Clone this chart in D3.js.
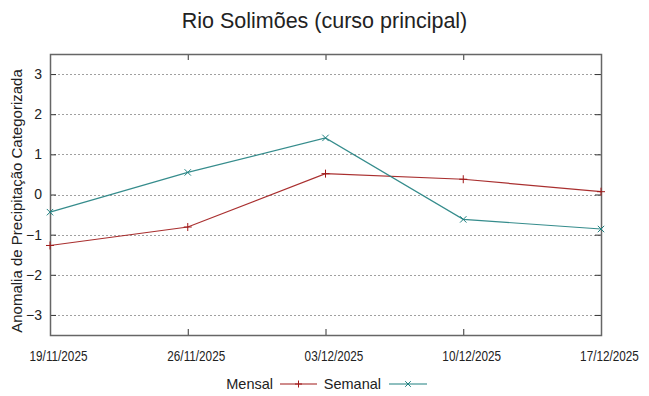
<!DOCTYPE html>
<html>
<head>
<meta charset="utf-8">
<script src="https://cdn.jsdelivr.net/npm/d3@7"></script>
<style>
  body { margin: 0; background: #fff; }
  text { font-family: "Liberation Sans", Arial, sans-serif; fill: #222; }
</style>
</head>
<body>
<div id="chart"></div>
<script>
const width = 649, height = 396
const margin = { top: 54, right: 48, bottom: 61, left: 50 }

const dates = ['19/11/2025', '26/11/2025', '03/12/2025', '10/12/2025', '17/12/2025']
const mensal = [-1.27, -0.81, 0.52, 0.38, 0.07]
const semanal = [-0.44, 0.55, 1.41, -0.62, -0.86]
const yTicks = [-3, -2, -1, 0, 1, 2, 3]

const parse = d3.timeParse('%d/%m/%Y')
const fmt = d3.timeFormat('%d/%m/%Y')

const svg = d3.select('#chart')
    .append('svg')
    .attr('width', width)
    .attr('height', height)

const x = d3.scaleTime()
    .domain(d3.extent(dates, parse))
    .range([margin.left, width - margin.right])

const y = d3.scaleLinear()
    .domain([-3.5, 3.5])
    .range([height - margin.bottom, margin.top])

// grid
svg.append('g')
    .selectAll('line')
    .data(yTicks)
    .join('line')
    .attr('x1', margin.left)
    .attr('x2', width - margin.right)
    .attr('y1', d => Math.round(y(d)) + 0.5)
    .attr('y2', d => Math.round(y(d)) + 0.5)
    .attr('stroke', '#a0a0a0')
    .attr('stroke-width', 1)
    .attr('stroke-dasharray', '2,2')

// y axis labels and ticks
svg.append('g')
    .attr('transform', `translate(${margin.left},0)`)
    .call(d3.axisLeft(y).tickValues(yTicks).tickSize(-6).tickPadding(8).tickFormat(d3.format('d')))
    .call(g => g.select('.domain').remove())
    .call(g => g.selectAll('.tick line').attr('stroke', '#333'))
    .call(g => g.selectAll('text').attr('font-size', 14).attr('fill', '#222')
        .attr('font-family', '"Liberation Sans", Arial, sans-serif'))

svg.append('g')
    .attr('transform', `translate(${width - margin.right},0)`)
    .call(d3.axisRight(y).tickValues(yTicks).tickSize(-6).tickFormat(''))
    .call(g => g.select('.domain').remove())
    .call(g => g.selectAll('.tick line').attr('stroke', '#333'))

// x axis (labels sit a little right of their ticks, as in the original)
const xVals = dates.map(parse)
svg.append('g')
    .attr('transform', `translate(0,${height - margin.bottom})`)
    .call(d3.axisBottom(x).tickValues(xVals).tickFormat(fmt).tickSize(-6).tickPadding(16))
    .call(g => g.select('.domain').remove())
    .call(g => g.selectAll('.tick line').attr('stroke', '#333'))
    .call(g => g.selectAll('text').attr('font-size', 14).attr('fill', '#222')
        .attr('font-family', '"Liberation Sans", Arial, sans-serif')
        .attr('transform', 'translate(8,0) scale(0.84,1)'))

svg.append('g')
    .attr('transform', `translate(0,${margin.top})`)
    .call(d3.axisTop(x).tickValues(xVals).tickSize(-6).tickFormat(''))
    .call(g => g.select('.domain').remove())
    .call(g => g.selectAll('.tick line').attr('stroke', '#333'))

// border
svg.append('rect')
    .attr('x', margin.left + 0.5)
    .attr('y', margin.top + 0.5)
    .attr('width', width - margin.left - margin.right)
    .attr('height', height - margin.top - margin.bottom)
    .attr('fill', 'none')
    .attr('stroke', '#666')
    .attr('stroke-width', 1.5)

const series = [
    { name: 'Mensal', values: mensal, color: '#a01818', marker: 'plus' },
    { name: 'Semanal', values: semanal, color: '#1f8080', marker: 'cross' },
]

const line = d3.line()
    .x((d, i) => x(xVals[i]))
    .y(d => y(d))

const markerPath = (type, cx, cy, s) => type === 'plus'
    ? `M${cx - s},${cy}H${cx + s}M${cx},${cy - s}V${cy + s}`
    : `M${cx - s},${cy - s}L${cx + s},${cy + s}M${cx - s},${cy + s}L${cx + s},${cy - s}`

series.forEach(s => {
    svg.append('path')
        .datum(s.values)
        .attr('d', line)
        .attr('fill', 'none')
        .attr('stroke', s.color)
        .attr('stroke-width', 1.2)
        .attr('opacity', 0.9)

    svg.append('g')
        .selectAll('path')
        .data(s.values)
        .join('path')
        .attr('d', (d, i) => markerPath(s.marker, x(xVals[i]), y(d), s.marker === 'plus' ? 4 : 3.2))
        .attr('stroke', s.color)
        .attr('stroke-width', 1)
        .attr('fill', 'none')
})

// title
svg.append('text')
    .attr('x', width / 2)
    .attr('y', 28)
    .attr('text-anchor', 'middle')
    .attr('font-size', 21.5)
    .attr('fill', '#111')
    .text('Rio Solimões (curso principal)')

// y label
svg.append('text')
    .attr('transform', `translate(22,201) rotate(-90)`)
    .attr('text-anchor', 'middle')
    .attr('font-size', 15)
    .text('Anomalia de Precipitação Categorizada')

// legend
const legend = svg.append('g').attr('transform', 'translate(0,384)')
const legendItems = [
    { s: series[0], textEnd: 273, x1: 280, x2: 317 },
    { s: series[1], textEnd: 381, x1: 389, x2: 427 },
]
legendItems.forEach(it => {
    legend.append('text')
        .attr('x', it.textEnd)
        .attr('y', 4.5)
        .attr('text-anchor', 'end')
        .attr('font-size', 14.5)
        .text(it.s.name)
    legend.append('line')
        .attr('x1', it.x1).attr('x2', it.x2)
        .attr('y1', 0).attr('y2', 0)
        .attr('stroke', it.s.color)
        .attr('stroke-width', 1.2)
    legend.append('path')
        .attr('d', markerPath(it.s.marker, (it.x1 + it.x2) / 2, 0, it.s.marker === 'plus' ? 3.5 : 2.8))
        .attr('stroke', it.s.color)
        .attr('fill', 'none')
})
</script>
</body>
</html>
